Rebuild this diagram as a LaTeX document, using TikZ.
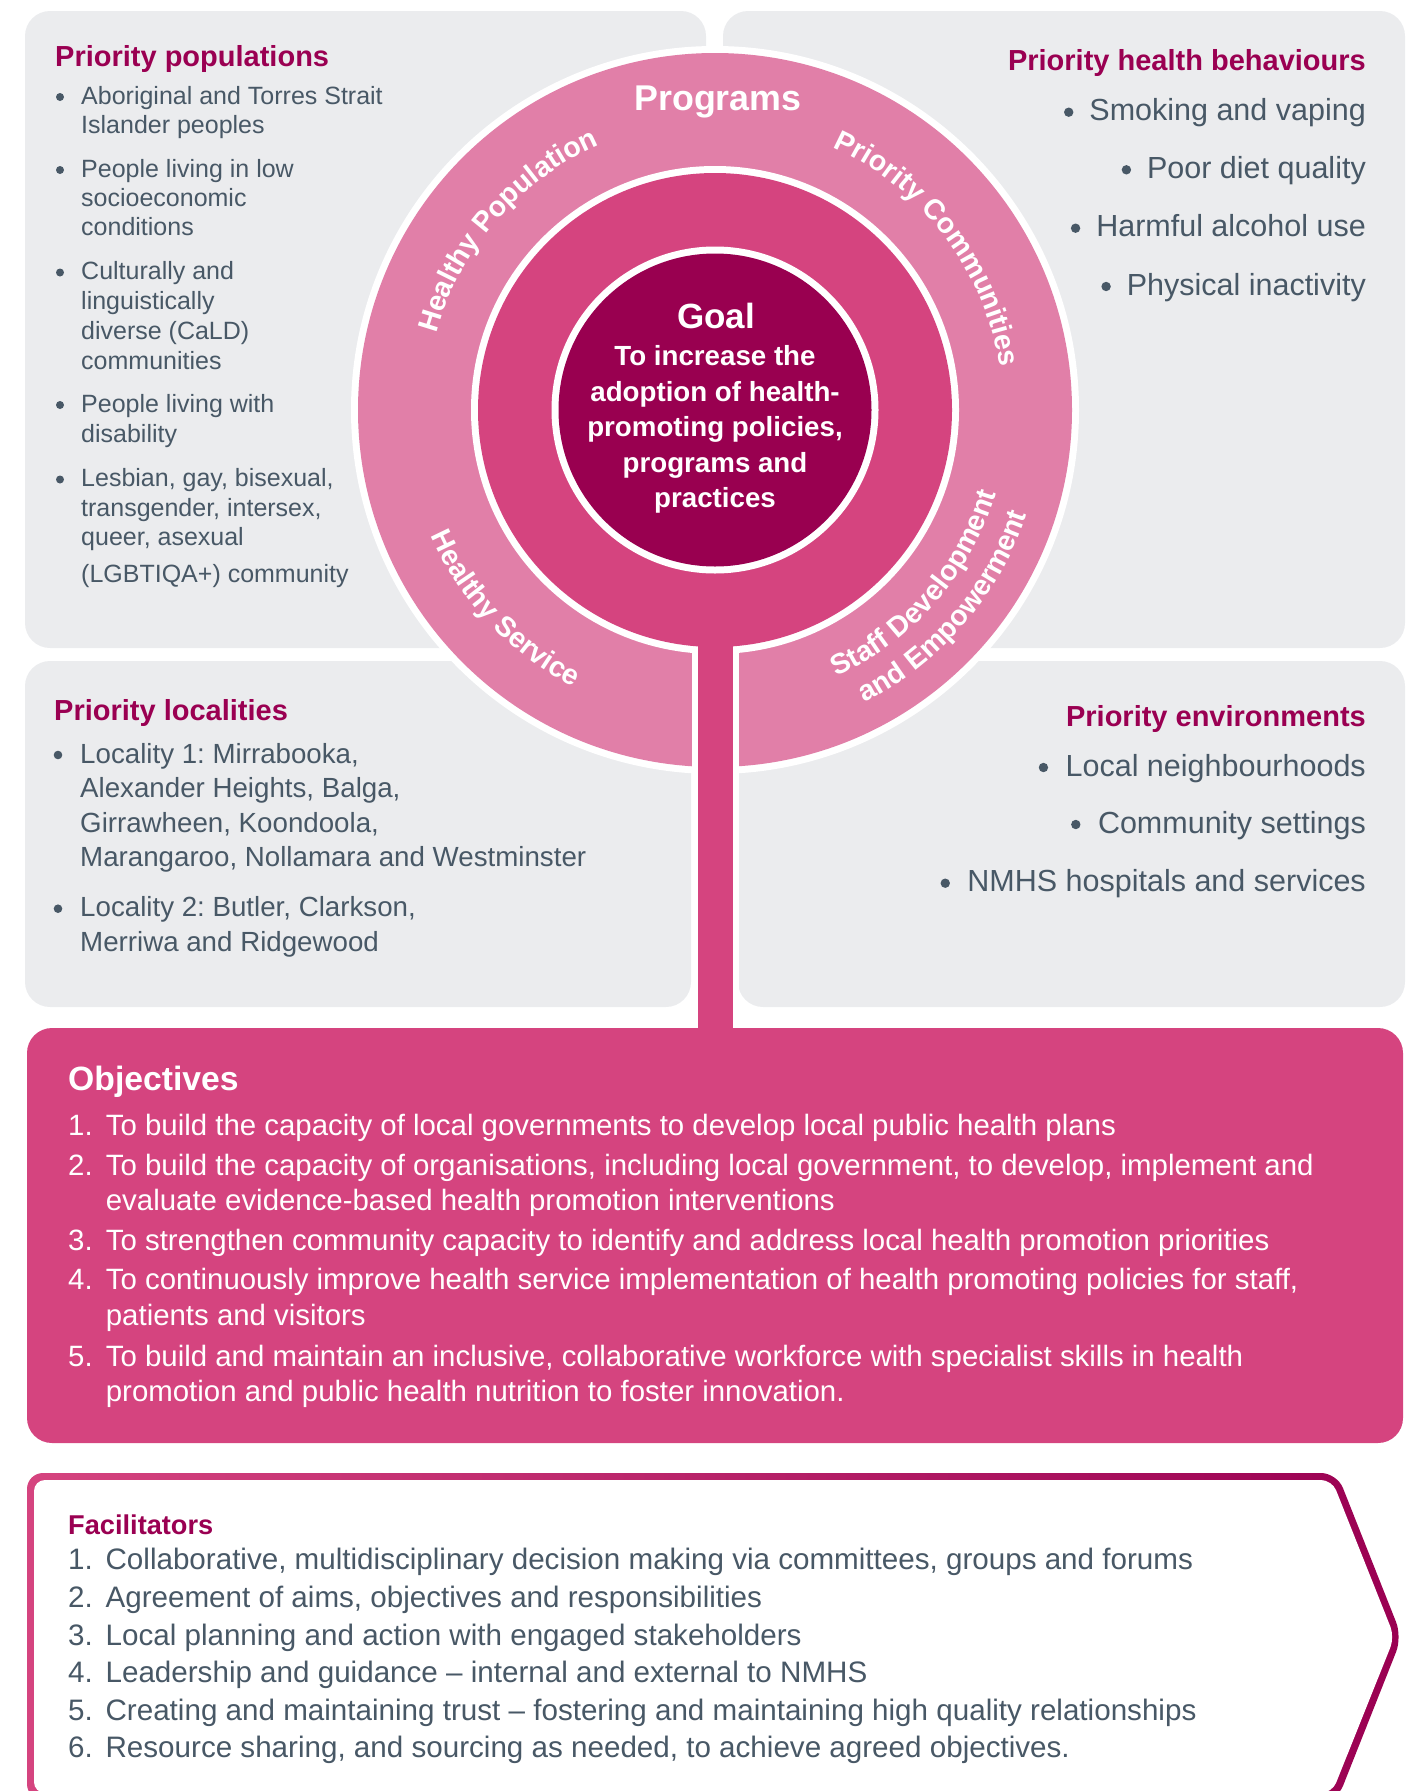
\documentclass[tikz,border=0pt]{standalone}
\usepackage{fontspec}
\setmainfont{Liberation Sans}
\usetikzlibrary{decorations.text}
\definecolor{cpanel}{HTML}{EBECEE}
\definecolor{cring}{HTML}{E17FA8}
\definecolor{cmid}{HTML}{D5447F}
\definecolor{cgoal}{HTML}{990050}
\definecolor{chead}{HTML}{9A0052}
\definecolor{ctext}{HTML}{485866}
\frenchspacing
\newcommand{\ringfont}{\fontsize{28.5}{30}\selectfont\bfseries\color{white}}
\tikzset{
  every node/.style={inner sep=0pt},
  panel/.style={fill=#1, rounded corners=25pt},
  panel/.default=cpanel,
  head/.style={font=\fontsize{29}{34}\selectfont\bfseries, text=chead},
  listtl/.style={font=\fontsize{25}{30}\selectfont, text=ctext, anchor=base west},
  listtr/.style={font=\fontsize{30.5}{36}\selectfont, text=ctext, anchor=base east},
  listbl/.style={font=\fontsize{27.7}{34}\selectfont, text=ctext, anchor=base west},
  objline/.style={font=\fontsize{29.4}{36}\selectfont, text=white, anchor=base west},
  facline/.style={font=\fontsize{29.6}{36}\selectfont, text=ctext, anchor=base west},
  goaltext/.style={font=\fontsize{27.7}{34}\selectfont\bfseries, text=white, anchor=base},
  ringlabel/.style={decorate, decoration={text along path, text align=center, text={|\ringfont|#1}}},
}

\begin{document}
\begin{tikzpicture}[x=1pt, y=-1pt]
  \useasboundingbox (0,0) rectangle (1413,1791);
  \clip (0,0) rectangle (1413,1791);

  % four grey panels and the objectives block
  \fill[panel] (25,11) rectangle (706,648);
  \fill[panel] (723,11) rectangle (1405,648);
  \fill[panel] (25,661) rectangle (691,1007);
  \fill[panel] (738,661) rectangle (1405,1007);
  \fill[panel=cmid] (27,1028) rectangle (1403,1443);

  % facilitators arrow: shaded outline, white inside
  \shade[left color=cmid, right color=chead, rounded corners=16pt]
    (27,1800) -- (27,1473) -- (1337,1473) -- (1402,1637) -- (1337,1801) -- cycle;
  \fill[white, rounded corners=11pt]
    (34,1793) -- (34,1480) -- (1332,1480) -- (1394.5,1637) -- (1332,1793) -- cycle;

  % the rings and the stem
  \begin{scope}[shift={(715,410)}, y=1pt]
    \fill[white] (0,0) circle (364);
    \fill[cring] (0,0) circle (357);
    \fill[white] (-23.5,0) rectangle (23.5,-618);
    \fill[white] (0,0) circle (244);
    \fill[cmid] (0,0) circle (237);
    \fill[cmid] (-17.5,0) rectangle (17.5,-621);
    \fill[white] (0,0) circle (163.5);
    \fill[cgoal] (0,0) circle (156.5);

    \path[ringlabel=Healthy Population] (179.1:289) arc[start angle=179.1, end angle=99.1, radius=289];
    \path[ringlabel=Priority Communities] (77.2:288) arc[start angle=77.2, end angle=-2.8, radius=288];
    \path[ringlabel=Healthy Service] (183.4:311) arc[start angle=183.4, end angle=263.4, radius=311];
    \path[ringlabel=Staff Development] (-81:293) arc[start angle=-81, end angle=-1, radius=293];
    \path[ringlabel=and Empowerment] (-80.7:329) arc[start angle=-80.7, end angle=-0.7, radius=329];
  \end{scope}

  \node[font=\fontsize{35.8}{40}\selectfont\bfseries, text=white, anchor=base] (prog) at (718,110.4) {Programs};
  \node[font=\fontsize{35}{40}\selectfont\bfseries, text=white, anchor=base] (goal) at (716,328) {Goal};
  \foreach \t [count=\i] in {To increase the, adoption of health-, {promoting policies,}, programs and, practices}
    \node[goaltext] (gt\i) at (715,{330.2+35.45*\i}) {\t};

  % priority populations
  \node[head, anchor=base west] (pophead) at (55,66) {Priority populations};
  \foreach \y/\t [count=\i] in {104/Aboriginal and Torres Strait, 133.5/Islander peoples,
      177/People living in low, 206.5/socioeconomic, 235/conditions,
      279.5/Culturally and, 309.5/linguistically, 339/diverse (CaLD), 369/communities,
      412/People living with, 442/disability,
      486.5/{Lesbian, gay, bisexual,}, 516/{transgender, intersex,}, 545/{queer, asexual},
      582.5/(LGBTIQA+) community}
    \node[listtl] (pp\i) at (81,\y) {\t};
  \foreach \i in {1,3,6,10,12}
    \fill[ctext] ([shift={(-21,-7)}]pp\i.base west) circle (4);

  % priority health behaviours
  \node[head, anchor=base east] (hbhead) at (1366,70.7) {Priority health behaviours};
  \foreach \y/\t [count=\i] in {120.7/Smoking and vaping, 178.3/Poor diet quality,
      236.7/Harmful alcohol use, 295/Physical inactivity} {
    \node[listtr] (hb\i) at (1366,\y) {\t};
    \fill[ctext] ([shift={(-20.5,-8.5)}]hb\i.base west) circle (4.7);
  }

  % priority localities
  \node[head, anchor=base west] (lochead) at (54,720) {Priority localities};
  \foreach \y/\t [count=\i] in {763/{Locality 1: Mirrabooka,}, 797.7/{Alexander Heights, Balga,},
      832/{Girrawheen, Koondoola,}, 866.7/{Marangaroo, Nollamara and Westminster},
      916.7/{Locality 2: Butler, Clarkson,}, 951.7/Merriwa and Ridgewood}
    \node[listbl] (pl\i) at (80,\y) {\t};
  \foreach \i in {1,5}
    \fill[ctext] ([shift={(-22,-8)}]pl\i.base west) circle (4.3);

  % priority environments
  \node[head, anchor=base east] (envhead) at (1366,726) {Priority environments};
  \foreach \y/\t [count=\i] in {776/Local neighbourhoods, 833/Community settings,
      891.7/NMHS hospitals and services} {
    \node[listtr] (pe\i) at (1366,\y) {\t};
    \fill[ctext] ([shift={(-22,-8.5)}]pe\i.base west) circle (4.7);
  }

  % objectives
  \node[font=\fontsize{33.7}{40}\selectfont\bfseries, text=white, anchor=base west] (objhead) at (68,1090.7) {Objectives};
  \foreach \y/\n in {1135/1, 1175/2, 1250/3, 1289.3/4, 1366.7/5}
    \node[objline] (on\n) at (68,\y) {\n.};
  \foreach \y/\t [count=\i] in {
      1135/To build the capacity of local governments to develop local public health plans,
      1175/{To build the capacity of organisations, including local government, to develop, implement and},
      1210/evaluate evidence-based health promotion interventions,
      1250/To strengthen community capacity to identify and address local health promotion priorities,
      1289.3/{To continuously improve health service implementation of health promoting policies for staff,},
      1325/patients and visitors,
      1366.7/{To build and maintain an inclusive, collaborative workforce with specialist skills in health},
      1401.7/promotion and public health nutrition to foster innovation.}
    \node[objline] (ob\i) at (105.7,\y) {\t};

  % facilitators
  \node[head, font=\fontsize{27.2}{32}\selectfont\bfseries, anchor=base west] (fachead) at (68,1534) {Facilitators};
  \foreach \t [count=\i] in {
      {Collaborative, multidisciplinary decision making via committees, groups and forums},
      {Agreement of aims, objectives and responsibilities},
      Local planning and action with engaged stakeholders,
      Leadership and guidance – internal and external to NMHS,
      Creating and maintaining trust – fostering and maintaining high quality relationships,
      {Resource sharing, and sourcing as needed, to achieve agreed objectives.}} {
    \node[facline] (fn\i) at (68,{1532.3+37.6*\i}) {\i.};
    \node[facline] (ft\i) at (105.4,{1532.3+37.6*\i}) {\t};
  }
\end{tikzpicture}
\end{document}
